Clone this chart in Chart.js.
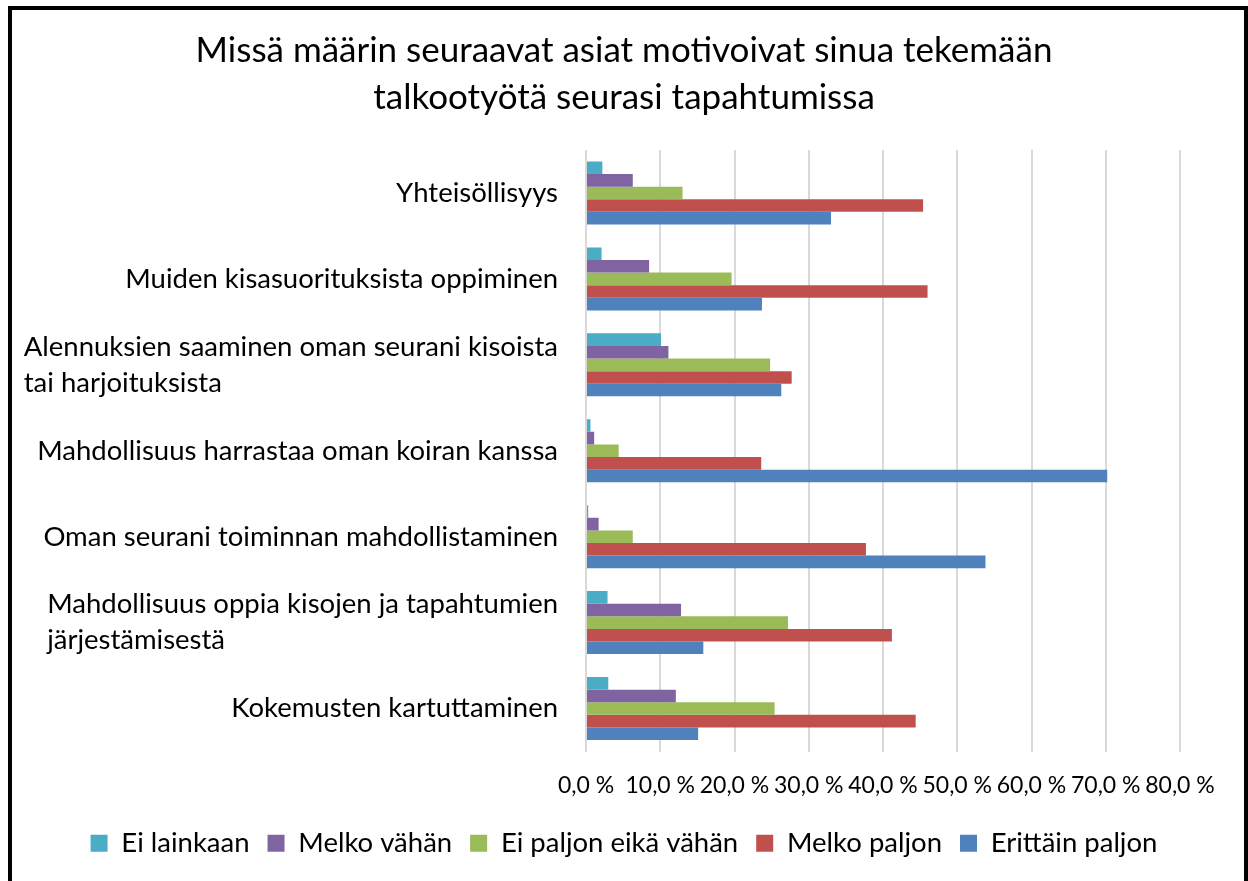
<!DOCTYPE html>
<html>
<head>
<meta charset="utf-8">
<script src="https://cdn.jsdelivr.net/npm/chart.js@4"></script>
<style>
  body { margin: 0; background: #fff; }
  #wrap { position: relative; width: 1248px; height: 881px; overflow: hidden; }
  #frame { position: absolute; left: 8px; top: 6px; width: 1232px; height: 900px; border: 4px solid #000; pointer-events: none; }
</style>
</head>
<body>
<div id="wrap">
  <canvas id="myChart" width="1248" height="881"></canvas>
  <div id="frame"></div>
</div>
<script>
// categories, top to bottom
let kysymykset = [
    ['Yhteisöllisyys'],
    ['Muiden kisasuorituksista oppiminen'],
    ['Alennuksien saaminen oman seurani kisoista', 'tai harjoituksista'],
    ['Mahdollisuus harrastaa oman koiran kanssa'],
    ['Oman seurani toiminnan mahdollistaminen'],
    ['Mahdollisuus oppia kisojen ja tapahtumien', 'järjestämisestä'],
    ['Kokemusten kartuttaminen']
]

let sarjat = ['Ei lainkaan', 'Melko vähän', 'Ei paljon eikä vähän', 'Melko paljon', 'Erittäin paljon']

// percent values per series
let eiLainkaan = [2.2, 2.1, 10.1, 0.6, 0.3, 2.9, 3.0]
let melkoVahan = [6.3, 8.5, 11.1, 1.1, 1.7, 12.8, 12.1]
let eiPaljonEikaVahan = [13.0, 19.6, 24.8, 4.4, 6.3, 27.2, 25.4]
let melkoPaljon = [45.4, 46.0, 27.7, 23.6, 37.7, 41.2, 44.4]
let erittainPaljon = [33.0, 23.7, 26.3, 70.2, 53.8, 15.8, 15.1]

let xTicks = [0, 10, 20, 30, 40, 50, 60, 70, 80]

let varit = ['#4BACC6', '#8064A2', '#9BBB59', '#C0504D', '#4F81BD']
let arvot = [eiLainkaan, melkoVahan, eiPaljonEikaVahan, melkoPaljon, erittainPaljon]

const fontti = 'Lato, "Open Sans", sans-serif'

// y labels: lines left aligned inside a block that is right aligned to the axis
const labelPlugin = {
    id: 'ylabels',
    afterDraw(chart) {
        const ctx = chart.ctx
        const y = chart.scales.y
        ctx.save()
        ctx.font = '27.5px ' + fontti
        ctx.fillStyle = '#000'
        ctx.textAlign = 'left'
        ctx.textBaseline = 'middle'
        const lh = 36
        kysymykset.forEach((lines, i) => {
            const cy = y.getPixelForValue(i)
            const w = Math.max(...lines.map(l => ctx.measureText(l).width))
            const x0 = chart.chartArea.left - 28 - w
            lines.forEach((l, j) => {
                ctx.fillText(l, x0, cy + (j - (lines.length - 1) / 2) * lh)
            })
        })
        ctx.restore()
    }
}

let myChart = document.getElementById('myChart')

const chart = new Chart(myChart, {
    type: 'bar',
    data: {
        labels: kysymykset,
        datasets: sarjat.map((s, i) => ({
            label: s,
            data: arvot[i],
            backgroundColor: varit[i],
            borderWidth: 0,
            categoryPercentage: 0.733,
            barPercentage: 1
        }))
    },
    options: {
        indexAxis: 'y',
        responsive: false,
        animation: false,
        layout: {
            padding: { left: 0, right: 0, top: 0, bottom: 14 }
        },
        plugins: {
            title: {
                display: true,
                text: ['Missä määrin seuraavat asiat motivoivat sinua tekemään', 'talkootyötä seurasi tapahtumissa'],
                color: '#000',
                font: { family: fontti, size: 35, weight: 'normal', lineHeight: 1.343 },
                padding: { top: 27, bottom: 29 }
            },
            legend: {
                position: 'bottom',
                labels: {
                    color: '#000',
                    boxWidth: 17,
                    boxHeight: 17,
                    padding: 18,
                    font: { family: fontti, size: 27.5 }
                }
            },
            tooltip: { enabled: false }
        },
        scales: {
            x: {
                min: 0,
                max: 80,
                afterBuildTicks: (scale) => {
                    scale.ticks = xTicks.map(v => ({ value: v }))
                },
                afterFit: (scale) => {
                    scale.height = 60
                },
                ticks: {
                    color: '#000',
                    padding: 20,
                    autoSkip: false,
                    maxRotation: 0,
                    font: { family: fontti, size: 23 },
                    callback: (v) => v.toFixed(1).replace('.', ',') + ' %'
                },
                grid: {
                    color: '#d9d9d9',
                    lineWidth: 2,
                    drawTicks: false
                },
                border: { display: false }
            },
            y: {
                afterFit: (scale) => {
                    scale.width = 586
                },
                ticks: { display: false },
                grid: { display: false },
                border: { display: false }
            },
            // empty right axis, only keeps space on the right side
            yRight: {
                type: 'category',
                position: 'right',
                afterFit: (scale) => {
                    scale.width = 68
                },
                ticks: { display: false },
                grid: { display: false },
                border: { display: false }
            }
        }
    },
    plugins: [labelPlugin]
})
</script>
</body>
</html>
